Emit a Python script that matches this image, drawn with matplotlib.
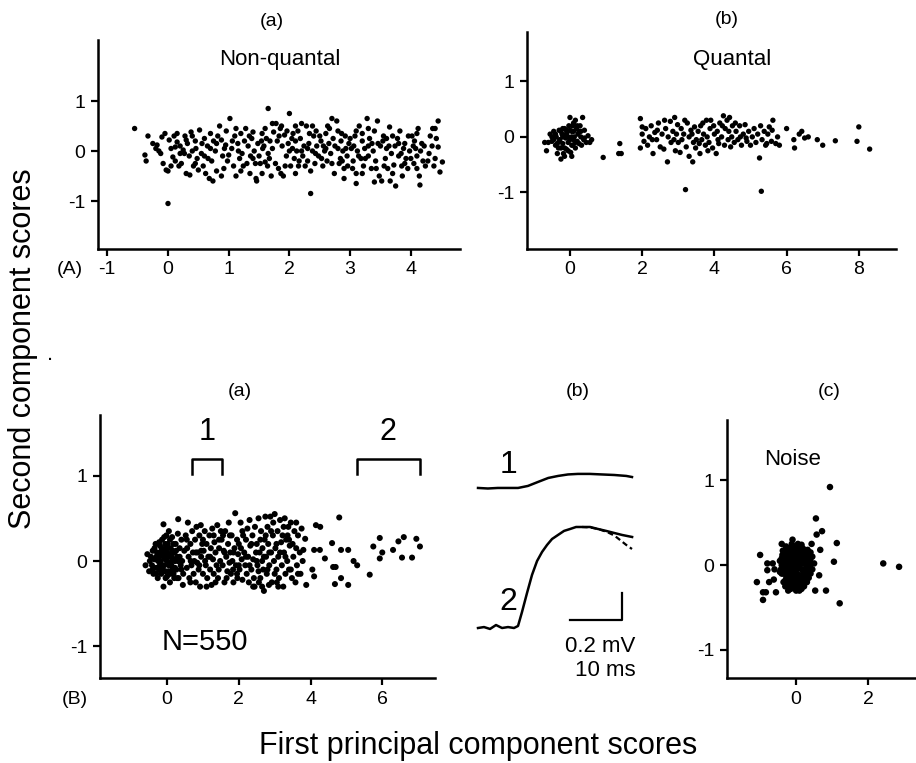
import matplotlib
matplotlib.use("Agg")
import matplotlib.pyplot as plt
import numpy as np

plt.rcParams['font.family'] = ['Liberation Sans', 'DejaVu Sans']
plt.rcParams['axes.unicode_minus'] = False

# ---------------- data ----------------
# (A)(a) non-quantal: first vs second principal component scores
nonquantal_pts = [
    (-0.55, 0.45), (-0.38, -0.08), (-0.36, -0.2), (-0.33, 0.3), (-0.25, 0.15),
    (-0.2, 0.05), (-0.18, 0.12), (-0.12, -0.05), (-0.1, 0.28), (-0.08, -0.25), (-0.05, 0.35),
    (-0.03, -0.38), (0.0, -0.4), (-0.15, 0.0), (0.0, -1.05),
    (0.02, 0.22), (0.05, 0.05), (0.08, -0.12), (0.1, 0.3), (0.12, -0.2), (0.15, 0.18),
    (0.18, -0.3), (0.2, 0.1), (0.22, -0.25), (0.25, 0.02), (0.12, 0.08), (0.2, -0.05),
    (0.05, -0.3), (0.15, 0.35), (0.27, -0.05),
    (0.28, 0.3), (0.3, -0.45), (0.32, 0.15), (0.35, -0.1), (0.38, 0.38), (0.4, 0.0),
    (0.42, -0.3), (0.45, 0.2), (0.48, -0.15), (0.3, 0.22), (0.36, -0.48), (0.46, 0.05),
    (0.4, 0.3), (0.5, -0.38), (0.45, -0.25),
    (0.52, 0.42), (0.55, -0.05), (0.58, -0.3), (0.6, 0.25), (0.62, -0.45), (0.65, 0.1),
    (0.68, -0.55), (0.7, 0.35), (0.72, -0.2), (0.74, -0.6), (0.56, 0.15), (0.66, -0.15),
    (0.6, -0.1), (0.7, 0.05), (0.75, 0.2),
    (0.78, 0.0), (0.8, -0.4), (0.85, 0.5), (0.88, 0.22), (0.9, -0.1), (0.92, -0.35),
    (0.95, 0.12), (0.98, -0.2), (0.82, 0.3), (0.96, 0.4), (0.88, -0.5), (0.93, 0.05), (0.8, 0.15),
    (1.02, 0.65), (1.05, 0.05), (1.08, -0.3), (1.1, 0.3), (1.12, -0.5), (1.15, 0.15),
    (1.18, -0.15), (1.2, 0.35), (1.22, -0.05), (1.24, -0.3), (1.06, 0.2), (1.16, 0.0),
    (1.0, -0.08), (1.12, 0.45), (1.2, -0.4),
    (1.28, 0.45), (1.3, -0.25), (1.32, 0.1), (1.35, -0.45), (1.38, 0.25), (1.4, -0.15),
    (1.42, 0.0), (1.45, -0.55), (1.48, 0.15), (1.46, -0.6), (1.34, 0.3), (1.44, -0.25),
    (1.26, 0.2), (1.36, -0.1), (1.4, 0.38),
    (1.52, -0.25), (1.55, 0.35), (1.58, 0.1), (1.6, -0.22), (1.62, 0.25), (1.65, 0.85),
    (1.65, -0.05), (1.68, 0.2), (1.7, -0.5), (1.72, 0.05), (1.74, 0.38), (1.56, 0.05), (1.64, -0.3),
    (1.5, -0.1), (1.54, 0.2), (1.6, 0.45), (1.67, -0.15), (1.72, 0.55), (1.55, -0.45),
    (1.78, 0.55), (1.8, 0.2), (1.82, -0.35), (1.85, 0.45), (1.88, 0.1), (1.9, -0.5),
    (1.92, 0.32), (1.95, -0.1), (1.98, 0.15), (2.0, 0.75), (1.86, -0.45), (1.96, 0.4),
    (1.77, -0.25), (1.83, 0.3), (1.87, 0.5), (1.93, -0.3),
    (2.02, -0.3), (2.05, 0.05), (2.08, -0.15), (2.1, 0.2), (2.12, 0.0), (2.15, -0.3),
    (2.18, 0.25), (2.2, 0.55), (2.22, -0.1), (2.24, 0.1), (2.06, 0.35), (2.16, -0.2),
    (2.0, 0.0), (2.04, 0.25), (2.1, -0.45), (2.14, 0.4), (2.2, 0.0), (2.1, 0.5),
    (2.28, 0.5), (2.3, -0.2), (2.32, 0.15), (2.35, -0.4), (2.35, -0.85), (2.38, 0.0),
    (2.4, 0.3), (2.42, -0.25), (2.45, 0.1), (2.48, -0.1), (2.3, 0.05), (2.44, 0.4),
    (2.26, -0.3), (2.33, 0.35), (2.38, 0.5), (2.43, -0.05),
    (2.52, 0.2), (2.55, -0.3), (2.58, 0.0), (2.6, 0.35), (2.62, -0.2), (2.65, 0.15),
    (2.68, -0.05), (2.7, 0.65), (2.72, 0.25), (2.74, -0.45), (2.56, 0.1), (2.66, 0.45),
    (2.5, 0.3), (2.53, -0.15), (2.6, 0.05), (2.63, 0.5), (2.7, -0.25),
    (2.78, 0.6), (2.8, 0.05), (2.82, -0.25), (2.85, 0.2), (2.88, 0.0), (2.9, -0.35),
    (2.92, 0.3), (2.95, -0.1), (2.98, 0.15), (2.86, 0.35), (2.96, -0.3), (2.84, -0.15),
    (2.75, 0.1), (2.8, 0.4), (2.87, -0.2), (2.93, 0.05), (2.9, -0.55),
    (3.02, 0.05), (3.05, -0.2), (3.08, 0.3), (3.1, -0.45), (3.12, 0.0), (3.15, 0.5),
    (3.18, -0.15), (3.2, 0.2), (3.22, -0.3), (3.1, -0.65), (3.06, 0.1), (3.24, 0.05),
    (3.0, 0.25), (3.04, -0.35), (3.1, 0.4), (3.14, -0.1), (3.2, 0.35), (3.25, -0.15), (3.2, -0.45),
    (3.28, 0.65), (3.3, -0.1), (3.32, 0.25), (3.35, -0.35), (3.38, 0.0), (3.4, 0.4),
    (3.42, -0.2), (3.45, 0.6), (3.48, -0.5), (3.4, -0.62), (3.3, 0.1), (3.46, 0.15),
    (3.3, 0.45), (3.36, 0.15), (3.43, -0.35),
    (3.52, -0.6), (3.55, 0.3), (3.58, -0.15), (3.6, 0.05), (3.62, -0.35), (3.65, 0.48),
    (3.68, -0.05), (3.7, 0.3), (3.72, -0.28), (3.75, -0.7), (3.54, 0.2), (3.66, -0.6),
    (3.5, 0.1), (3.56, -0.3), (3.6, 0.25), (3.64, 0.1), (3.7, -0.45), (3.74, 0.1),
    (3.78, 0.25), (3.8, -0.1), (3.82, 0.4), (3.85, -0.3), (3.88, 0.05), (3.9, 0.15),
    (3.92, -0.15), (3.95, -0.35), (3.98, 0.0), (3.86, -0.5),
    (3.8, 0.15), (3.84, -0.05), (3.9, -0.25), (3.96, 0.3),
    (4.02, 0.3), (4.05, -0.25), (4.08, 0.05), (4.1, -0.1), (4.12, 0.45), (4.14, -0.5),
    (4.15, -0.68), (4.18, 0.15), (4.2, -0.2), (4.22, 0.1), (4.06, 0.2),
    (4.0, -0.15), (4.04, 0.1), (4.1, 0.35), (4.16, 0.0), (4.1, -0.35),
    (4.28, -0.2), (4.32, 0.3), (4.35, 0.1), (4.38, -0.3), (4.4, 0.45), (4.45, 0.6),
    (4.45, 0.08), (4.48, -0.42), (4.52, -0.22), (4.42, 0.25),
    (4.24, -0.3), (4.3, -0.05), (4.36, 0.45), (4.4, -0.15),
]

# (A)(b) quantal
quantal_pts = [
    (-0.7, -0.1), (-0.65, -0.25), (-0.6, -0.1), (-0.55, 0.05), (-0.5, -0.08), (-0.45, 0.1),
    (-0.4, -0.15), (-0.38, 0.0), (-0.35, -0.3), (-0.3, 0.12), (-0.28, -0.05), (-0.25, -0.2),
    (-0.25, -0.4), (-0.22, 0.05), (-0.2, -0.12), (-0.18, -0.3), (-0.15, 0.15), (-0.12, -0.02),
    (-0.1, -0.22), (-0.08, 0.08), (-0.05, -0.1), (-0.03, 0.2), (0.0, -0.05), (0.0, 0.35),
    (0.02, -0.28), (0.05, 0.1), (0.08, -0.15), (0.1, 0.25), (0.12, 0.0), (0.15, -0.2),
    (0.18, 0.15), (0.2, -0.08), (0.22, 0.05), (0.25, -0.12), (0.28, 0.2), (0.3, 0.0),
    (0.35, 0.35), (0.38, -0.05), (0.4, 0.12), (0.45, -0.1), (0.5, 0.02), (0.55, -0.1),
    (-0.45, -0.05), (-0.32, -0.2), (-0.15, -0.35), (0.05, -0.35), (0.15, 0.3), (-0.05, 0.0),
    (-0.2, 0.15), (0.0, 0.12), (0.1, -0.05), (0.25, 0.1), (-0.1, 0.05), (0.07, 0.2),
    (-0.3, -0.08), (0.32, -0.15),
    (-0.5, 0.0), (-0.4, 0.05), (-0.35, -0.12), (-0.2, 0.0), (-0.15, -0.2), (-0.1, 0.12),
    (0.05, 0.0), (0.1, 0.1), (0.15, -0.1), (0.2, 0.2), (-0.05, -0.25), (0.05, -0.15),
    (-0.25, 0.1), (0.3, 0.1), (0.4, -0.02), (0.6, -0.05),
    (0.92, -0.37), (1.38, -0.12), (1.42, -0.3), (1.35, -0.3),
    (1.95, 0.33), (1.95, -0.2), (2.0, 0.05), (2.05, -0.08), (2.1, 0.15), (2.15, -0.15),
    (2.2, 0.0), (2.25, 0.2), (2.3, -0.3), (2.35, 0.08), (2.4, -0.05), (2.45, 0.25),
    (2.5, -0.18), (2.0, 0.18), (2.28, -0.05), (2.42, 0.12),
    (2.55, 0.05), (2.6, -0.22), (2.65, 0.15), (2.7, -0.45), (2.72, 0.0), (2.78, 0.28),
    (2.8, -0.1), (2.85, 0.1), (2.9, 0.35), (2.92, -0.25), (2.95, 0.05), (3.0, -0.1),
    (2.62, 0.3), (2.88, -0.05), (2.98, 0.22),
    (3.05, -0.28), (3.08, 0.15), (3.1, -0.05), (3.15, 0.05), (3.2, -0.95), (3.22, -0.18),
    (3.25, 0.25), (3.3, -0.35), (3.3, 0.0), (3.35, 0.12), (3.4, -0.45), (3.42, -0.1),
    (3.45, 0.18), (3.5, -0.05), (3.18, 0.3), (3.38, 0.05), (3.48, -0.2),
    (3.55, 0.1), (3.6, -0.3), (3.62, 0.2), (3.65, -0.05), (3.7, 0.05), (3.75, -0.15),
    (3.78, 0.3), (3.8, 0.0), (3.85, -0.1), (3.88, 0.15), (3.9, 0.3), (3.95, -0.2),
    (4.0, 0.05), (3.68, 0.25), (3.82, -0.25), (3.98, 0.2), (3.58, -0.12),
    (4.05, -0.3), (4.08, 0.1), (4.1, -0.05), (4.15, 0.25), (4.2, 0.0), (4.25, 0.38),
    (4.28, -0.15), (4.3, 0.15), (4.35, 0.3), (4.38, -0.05), (4.4, 0.1), (4.45, -0.18),
    (4.5, 0.2), (4.12, -0.12), (4.22, 0.2), (4.42, 0.35), (4.48, 0.0),
    (4.55, -0.1), (4.6, 0.1), (4.65, -0.05), (4.7, 0.2), (4.75, -0.15), (4.8, 0.05),
    (4.85, 0.22), (4.9, -0.08), (4.95, 0.1), (5.0, -0.15), (4.58, 0.25), (4.72, 0.0), (4.88, -0.02),
    (5.05, 0.0), (5.1, 0.15), (5.15, -0.1), (5.2, 0.05), (5.25, -0.38), (5.28, 0.2),
    (5.3, -0.98), (5.32, -0.05), (5.38, 0.1), (5.42, -0.15), (5.48, 0.05), (5.52, 0.18),
    (5.58, -0.08), (5.62, 0.3), (5.7, -0.12), (5.75, 0.0), (5.45, -0.12), (5.6, 0.12), (5.8, -0.15),
    (6.0, 0.15), (6.2, -0.05), (6.22, -0.2), (6.35, 0.05), (6.42, 0.1), (6.5, -0.02),
    (6.6, 0.0), (6.85, -0.05), (7.0, -0.15), (7.35, -0.07), (7.95, -0.08), (8.0, 0.18), (8.3, -0.22),
]

# (B)(a) all events, N=550
events_pts = [
    (-0.6, -0.05), (-0.55, 0.08), (-0.5, -0.12), (-0.48, 0.0), (-0.45, 0.05), (-0.42, -0.05),
    (-0.4, 0.12), (-0.38, -0.15), (-0.35, 0.02), (-0.32, 0.2), (-0.3, -0.08), (-0.28, 0.1), (-0.26, -0.2),
    (-0.24, 0.05), (-0.22, -0.1), (-0.2, 0.18), (-0.18, 0.0), (-0.16, -0.15), (-0.14, 0.25),
    (-0.12, 0.08), (-0.1, -0.3), (-0.1, 0.43), (-0.08, -0.05), (-0.06, 0.12), (-0.04, -0.2),
    (-0.02, 0.3), (-0.2, 0.1), (-0.15, -0.05), (-0.05, 0.02), (-0.12, -0.1), (-0.02, 0.15), (-0.22, 0.22),
    (-0.35, 0.15), (-0.3, -0.15), (-0.25, 0.0), (-0.2, -0.05), (-0.15, 0.15), (-0.1, 0.05),
    (-0.05, 0.2), (-0.05, -0.12), (0.0, 0.1), (0.0, -0.18), (0.05, -0.05), (0.08, 0.25),
    (0.1, 0.05), (0.15, -0.1), (0.18, 0.2), (0.22, 0.0), (0.25, 0.12), (0.28, -0.2),
    (-0.08, 0.28), (0.35, 0.05), (-0.4, -0.1), (0.4, -0.1), (-0.3, 0.05), (0.1, -0.15),
    (0.0, 0.0), (0.02, 0.2), (0.04, -0.12), (0.06, 0.08), (0.08, -0.25), (0.1, 0.15),
    (0.12, -0.05), (0.14, 0.28), (0.16, 0.02), (0.18, -0.15), (0.2, 0.1), (0.22, -0.08),
    (0.24, 0.2), (0.05, 0.35), (0.1, -0.02), (0.15, 0.12), (0.03, 0.05), (0.2, -0.2), (0.12, 0.05),
    (0.26, -0.1), (0.28, 0.05), (0.3, 0.32), (0.31, 0.49), (0.32, -0.2), (0.35, 0.15),
    (0.38, -0.05), (0.4, 0.25), (0.42, 0.0), (0.45, -0.15), (0.48, 0.12), (0.3, 0.0), (0.44, -0.28),
    (0.52, 0.3), (0.55, -0.08), (0.58, 0.45), (0.6, 0.05), (0.62, -0.2), (0.65, 0.2),
    (0.68, -0.05), (0.7, 0.35), (0.72, 0.1), (0.74, -0.15), (0.56, 0.15), (0.66, 0.0),
    (0.55, 0.25), (0.65, -0.25),
    (0.76, 0.0), (0.78, 0.25), (0.8, -0.25), (0.82, 0.4), (0.85, 0.1), (0.88, -0.1),
    (0.9, 0.3), (0.92, -0.3), (0.95, 0.05), (0.98, 0.2), (0.84, -0.02), (0.94, 0.42),
    (0.8, 0.1), (0.9, -0.05), (0.95, 0.12),
    (1.0, -0.15), (1.02, 0.12), (1.05, 0.35), (1.08, -0.05), (1.1, 0.2), (1.12, -0.2),
    (1.15, 0.05), (1.18, 0.3), (1.2, -0.1), (1.22, 0.15), (1.24, -0.28), (1.06, 0.0),
    (1.0, 0.25), (1.1, -0.3), (1.2, 0.05),
    (1.26, 0.38), (1.28, 0.02), (1.3, -0.15), (1.32, 0.22), (1.35, 0.1), (1.38, -0.05),
    (1.4, 0.42), (1.42, -0.2), (1.45, 0.15), (1.48, 0.0), (1.3, 0.3), (1.44, -0.1),
    (1.35, -0.25), (1.45, 0.25),
    (1.52, 0.25), (1.55, -0.05), (1.58, 0.12), (1.6, -0.25), (1.62, 0.35), (1.65, 0.05),
    (1.68, -0.12), (1.7, 0.2), (1.72, 0.45), (1.74, -0.02), (1.56, 0.3), (1.66, -0.2),
    (1.5, 0.35), (1.6, 0.1),
    (1.76, 0.1), (1.78, -0.15), (1.8, 0.3), (1.82, 0.0), (1.85, -0.25), (1.88, 0.15),
    (1.9, 0.56), (1.92, -0.05), (1.95, 0.25), (1.98, 0.08), (1.84, -0.1), (1.96, -0.2),
    (1.75, 0.3), (1.85, 0.1), (1.95, -0.15),
    (2.0, 0.2), (2.02, -0.1), (2.05, 0.45), (2.08, 0.02), (2.1, -0.22), (2.12, 0.3),
    (2.15, 0.1), (2.18, -0.05), (2.2, 0.25), (2.22, -0.15), (2.24, 0.38), (2.06, 0.15),
    (2.0, -0.05), (2.1, 0.35), (2.2, 0.05),
    (2.26, 0.05), (2.28, -0.25), (2.3, 0.48), (2.32, 0.18), (2.35, -0.1), (2.38, 0.3),
    (2.4, 0.02), (2.42, -0.2), (2.45, 0.4), (2.48, 0.1), (2.3, -0.05), (2.44, -0.3),
    (2.35, 0.2), (2.4, -0.3),
    (2.5, 0.2), (2.52, -0.05), (2.55, 0.5), (2.58, 0.1), (2.6, -0.2), (2.62, 0.35),
    (2.65, 0.0), (2.68, -0.1), (2.7, -0.35), (2.72, 0.25), (2.74, 0.52), (2.56, -0.25), (2.66, 0.15),
    (2.5, 0.0), (2.6, 0.25), (2.65, -0.3), (2.7, 0.05), (2.55, -0.12),
    (2.76, 0.05), (2.78, -0.15), (2.8, 0.4), (2.82, 0.2), (2.85, -0.05), (2.88, 0.52),
    (2.9, 0.1), (2.92, -0.25), (2.95, 0.3), (2.98, 0.0), (2.84, -0.28), (2.96, 0.45),
    (2.75, 0.3), (2.8, -0.1), (2.85, 0.1), (2.9, 0.35),
    (3.0, 0.55), (3.02, 0.15), (3.05, -0.1), (3.08, 0.35), (3.1, 0.05), (3.12, -0.2),
    (3.15, 0.48), (3.18, 0.22), (3.2, -0.05), (3.22, 0.3), (3.24, -0.3), (3.06, -0.25),
    (3.0, -0.15), (3.05, 0.2), (3.1, -0.3), (3.15, 0.1),
    (3.26, 0.1), (3.28, 0.5), (3.3, -0.15), (3.32, 0.25), (3.35, 0.0), (3.38, 0.4),
    (3.4, -0.1), (3.42, 0.18), (3.45, 0.45), (3.48, -0.2), (3.36, 0.3),
    (3.25, 0.4), (3.3, 0.05), (3.4, 0.25), (3.45, -0.1),
    (3.52, 0.05), (3.55, 0.35), (3.58, -0.25), (3.6, 0.15), (3.62, -0.05), (3.65, 0.3),
    (3.7, 0.1), (3.72, -0.15), (3.75, 0.38), (3.78, 0.0), (3.5, 0.2), (3.6, 0.45), (3.65, -0.15),
    (3.8, 0.13), (3.85, 0.26), (3.88, -0.28), (4.05, -0.1), (4.1, 0.13), (4.1, -0.18),
    (4.15, 0.42), (4.27, 0.4), (4.26, 0.13), (4.4, 0.03),
    (4.6, 0.21), (4.63, -0.07), (4.7, -0.07), (4.68, -0.27), (4.8, 0.51), (4.85, 0.13),
    (4.85, -0.2), (5.05, 0.13), (5.05, -0.28), (5.2, 0.0), (5.3, -0.05),
    (5.65, -0.16), (5.75, 0.17), (5.93, 0.27), (6.0, 0.1), (5.93, 0.03), (6.3, 0.13),
    (6.45, 0.23), (6.6, 0.28), (6.55, 0.04), (6.83, 0.04), (6.95, 0.26), (7.05, 0.17),
]

# (B)(c) baseline noise
noise_pts = [
    (-0.45, 0.05), (-0.4, -0.1), (-0.38, 0.12), (-0.35, -0.2), (-0.32, 0.0), (-0.3, 0.18),
    (-0.28, -0.08), (-0.25, 0.08), (-0.22, -0.18), (-0.2, 0.2), (-0.18, -0.02), (-0.15, 0.1),
    (-0.12, -0.12), (-0.1, 0.22), (-0.08, 0.02), (-0.05, -0.2), (-0.02, 0.12), (0.0, -0.05),
    (0.02, 0.18), (0.05, -0.15), (0.08, 0.05), (0.1, -0.25), (0.12, 0.15), (0.15, -0.05),
    (0.18, 0.2), (0.2, -0.18), (0.22, 0.08), (0.25, -0.1), (0.28, 0.12), (0.3, -0.02),
    (0.32, 0.18), (0.35, -0.15), (0.38, 0.05), (0.42, -0.05), (0.45, 0.1), (0.5, 0.02),
    (-0.3, -0.25), (-0.15, -0.28), (0.0, -0.3), (0.15, -0.28), (0.05, 0.25), (-0.1, 0.0),
    (0.0, 0.08), (0.1, 0.0), (-0.2, 0.05), (0.2, 0.02), (-0.05, -0.08), (0.05, 0.1),
    (-0.15, -0.15), (0.25, 0.15), (-0.25, 0.15), (0.1, -0.12), (-0.05, 0.15), (0.3, -0.2),
    (-0.35, 0.1), (0.4, 0.15), (-0.42, -0.05), (0.12, 0.22), (-0.08, -0.22), (0.35, 0.02),
    (-0.28, 0.22), (0.18, -0.22),
    (-0.4, 0.0), (-0.3, 0.1), (-0.2, -0.1), (-0.1, 0.1), (-0.1, -0.15), (0.0, 0.0),
    (0.0, 0.2), (0.1, 0.1), (0.2, -0.1), (0.3, 0.05), (0.2, 0.12), (-0.25, -0.05),
    (0.05, -0.22), (-0.15, 0.05), (0.15, 0.05), (0.25, -0.2), (-0.05, 0.05), (0.4, -0.1),
    (-0.35, -0.1), (0.1, 0.2),
    (-0.4, 0.08), (-0.4, -0.05), (-0.33, -0.05), (-0.33, 0.06), (-0.27, 0.02), (-0.27, -0.15),
    (-0.23, 0.12), (-0.2, -0.22), (-0.17, 0.18), (-0.13, -0.05), (-0.13, 0.15), (-0.08, -0.1),
    (-0.08, 0.18), (-0.03, -0.15), (-0.02, 0.05), (0.02, -0.1), (0.03, 0.14), (0.07, -0.2),
    (0.08, 0.18), (0.12, -0.18), (0.13, 0.08), (0.17, -0.14), (0.17, 0.13), (0.22, -0.05),
    (0.23, 0.18), (0.27, -0.15), (0.28, 0.05), (0.33, -0.08), (0.33, 0.12), (0.38, -0.02),
    (0.4, 0.08), (-0.18, -0.2), (-0.05, -0.26), (0.08, -0.28), (0.22, -0.25), (-0.3, -0.18),
    (0.45, -0.05), (0.0, 0.22), (-0.12, 0.25), (0.15, 0.24), (-0.45, -0.08), (-0.37, 0.17),
    (0.94, 0.92), (0.55, 0.55), (0.72, 0.4), (0.57, 0.36), (1.13, 0.26), (0.67, 0.18),
    (1.05, 0.04), (0.64, -0.12), (1.21, -0.45), (0.83, -0.3), (0.53, -0.3), (2.42, 0.02),
    (2.86, -0.02), (-1.0, 0.12), (-1.09, -0.2), (-0.92, -0.32), (-0.92, -0.41), (-0.84, -0.32),
    (-0.56, -0.32), (-0.8, 0.02), (-0.65, 0.02), (-0.8, -0.06), (-0.6, -0.05), (-0.75, -0.2),
    (-0.62, -0.17), (-0.4, 0.25), (-0.1, 0.3), (0.43, 0.25), (0.09, -0.3), (-0.22, -0.3),
]

# (B)(b) averaged waveforms: time (ms) and amplitude (mV)
trace1_t = [0, 1.9, 3.8, 5.8, 7.7, 9.6, 11.5, 13.5, 15.4, 17.3, 19.2, 21.5, 23.8, 26.2, 28.5, 29.6]
trace1_mv = [0.0, -0.004, 0.0, 0.0, 0.0, 0.015, 0.044, 0.074, 0.089, 0.1, 0.104, 0.104,
             0.1, 0.096, 0.089, 0.081]
trace2_t = [0, 1.15, 2.31, 3.46, 4.62, 5.77, 6.92, 7.69, 8.46, 9.42, 10.38, 11.35, 12.31,
            13.27, 14.23, 15.38, 16.54, 17.69, 18.85, 20.0, 21.54, 23.08, 24.62, 26.15, 27.69, 29.62]
trace2_mv = [0.0, 0.007, -0.007, 0.022, 0.0, 0.007, 0.0, 0.015, 0.119, 0.259, 0.393, 0.496,
             0.563, 0.615, 0.659, 0.689, 0.719, 0.733, 0.748, 0.748, 0.748, 0.733, 0.719,
             0.704, 0.689, 0.674]
trace2_fit_t = [20.0, 21.5, 23.1, 24.8, 26.2, 27.3, 28.5, 29.6]
trace2_fit_mv = [0.748, 0.745, 0.733, 0.711, 0.685, 0.652, 0.615, 0.585]

# ---------------- figure ----------------
W, H = 916, 763
fig = plt.figure(figsize=(W / 100, H / 100), dpi=100)


def px_axes(left, top, right, bottom):
    return fig.add_axes([left / W, 1 - bottom / H, (right - left) / W, (bottom - top) / H])


def ftext(x, y, s, **kw):
    kw.setdefault('ha', 'center')
    kw.setdefault('va', 'center')
    fig.text(x / W, 1 - y / H, s, **kw)


def style(ax):
    for side in ('top', 'right'):
        ax.spines[side].set_visible(False)
    for side in ('left', 'bottom'):
        ax.spines[side].set_linewidth(1.8)
    ax.tick_params(direction='out', length=5, width=1.6, labelsize=14, pad=4)


def scatter(ax, pts, size):
    x, y = np.array(pts).T
    ax.scatter(x, y, s=size, c='black', edgecolors='none')


# (A)(a)
ax1 = px_axes(98, 40, 460, 249)
style(ax1)
scatter(ax1, nonquantal_pts, 15)
ax1.set_xlim(-1.153, 4.81)
ax1.set_ylim(-1.96, 2.22)
ax1.set_xticks([-1, 0, 1, 2, 3, 4])
ax1.set_yticks([-1, 0, 1])

# (A)(b)
ax2 = px_axes(527, 32, 896, 249)
style(ax2)
scatter(ax2, quantal_pts, 15)
ax2.set_xlim(-1.19, 9.03)
ax2.set_ylim(-2.02, 1.89)
ax2.set_xticks([0, 2, 4, 6, 8])
ax2.set_yticks([-1, 0, 1])

# (B)(a)
ax3 = px_axes(100, 415, 435, 678)
style(ax3)
scatter(ax3, events_pts, 19)
ax3.set_xlim(-1.87, 7.47)
ax3.set_ylim(-1.37, 1.71)
ax3.set_xticks([0, 2, 4, 6])
ax3.set_yticks([-1, 0, 1])
# brackets marking the two selected groups
for x0, x1, lab in [(0.70, 1.53, '1'), (5.29, 7.05, '2')]:
    ax3.plot([x0, x0, x1, x1], [1.02, 1.19, 1.19, 1.02], color='black', lw=1.8)
    ax3.text((x0 + x1) / 2, 1.51, lab, ha='center', va='center', fontsize=22)
ax3.text(1.05, -0.95, 'N=550', ha='center', va='center', fontsize=21)

# (B)(c)
ax4 = px_axes(727, 420, 916, 678)
style(ax4)
scatter(ax4, noise_pts, 22)
ax4.set_xlim(-1.92, 3.33)
ax4.set_ylim(-1.33, 1.71)
ax4.set_xticks([0, 2])
ax4.set_yticks([-1, 0, 1])
ax4.text(-0.1, 1.24, 'Noise', ha='center', va='center', fontsize=16)

# (B)(b) waveforms
ax5 = px_axes(470, 455, 645, 690)
ax5.axis('off')
ax5.set_xlim(-1.54, 32.1)
ax5.set_ylim(-0.459, 1.281)
offset1 = 1.037
ax5.plot(trace1_t, np.array(trace1_mv) + offset1, color='black', lw=1.8)
ax5.plot(trace2_t, trace2_mv, color='black', lw=1.8)
ax5.plot(trace2_fit_t, trace2_fit_mv, color='black', lw=1.6, ls=(0, (2.5, 1.5)))
# scale bar: 10 ms x 0.2 mV
ax5.plot([17.7, 27.7, 27.7], [0.059, 0.059, 0.259], color='black', lw=1.6)
ax5.text(5.8, offset1 + 0.17, '1', ha='center', va='center', fontsize=23)
ax5.text(5.8, 0.19, '2', ha='center', va='center', fontsize=23)

# panel titles and in-panel labels
ftext(272, 22, '(a)', fontsize=14)
ftext(727, 20, '(b)', fontsize=14)
ftext(240, 392, '(a)', fontsize=14)
ftext(578, 392, '(b)', fontsize=14)
ftext(829, 392, '(c)', fontsize=14)
ftext(280, 60, 'Non-quantal', fontsize=16)
ftext(732, 60, 'Quantal', fontsize=16)
ftext(70, 270, '(A)', fontsize=14)
ftext(75, 700, '(B)', fontsize=14)
ftext(600, 647, '0.2 mV', fontsize=16)
ftext(605, 670, '10 ms', fontsize=16)
ftext(50, 355, '.', fontsize=16)

# shared axis labels
ftext(23, 349, 'Second component scores', fontsize=22, rotation=90)
ftext(478, 746, 'First principal component scores', fontsize=22)

fig.savefig('out.png', dpi=100)
